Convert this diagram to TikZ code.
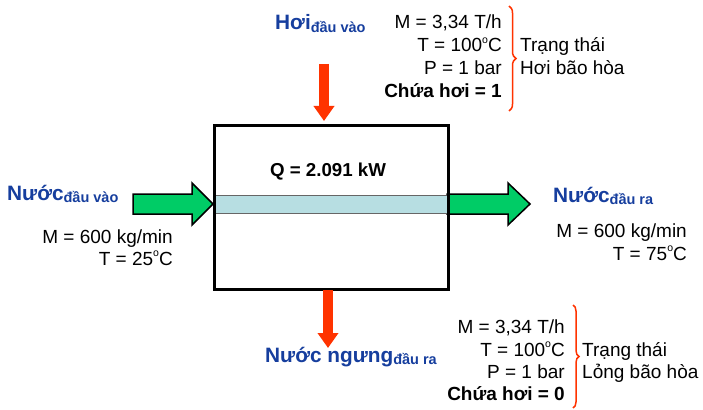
\documentclass[tikz,border=0pt]{standalone}
\usepackage{fontspec}
\setmainfont{Liberation Sans}
\usetikzlibrary{arrows.meta,decorations.pathreplacing}
\definecolor{lblblue}{RGB}{22,62,158}
\definecolor{flowgreen}{RGB}{0,204,102}
\definecolor{stripecol}{RGB}{183,222,226}
\definecolor{hotred}{RGB}{255,51,0}
\newcommand{\degO}{\raisebox{0.8ex}{\fontsize{10.5}{10.5}\selectfont o}}
\newcommand{\subl}[1]{\raisebox{-2.5pt}{\fontsize{14.5}{14.5}\selectfont\bfseries #1}}
\begin{document}
\begin{tikzpicture}[x=1pt,y=-1pt,
  txt/.style={inner sep=0pt, font=\fontsize{19}{23}\selectfont},
  boldtxt/.style={inner sep=0pt, font=\fontsize{19}{23}\selectfont\bfseries},
  lbl/.style={inner sep=0pt, text=lblblue, font=\fontsize{20.8}{22}\selectfont\bfseries},
  oarrow/.style={draw=hotred, line width=10pt, -{Triangle[width=20pt,length=15pt]}},
  garrow/.style={fill=flowgreen, draw=black, line width=1.5pt, line join=miter},
  curly/.style={draw=hotred, line width=1.5pt, decorate, decoration={brace, amplitude=7pt}},
]
\useasboundingbox (0,0) rectangle (703,409);
\fill[white] (0,0) rectangle (703,409);

% green flow arrows
\draw[garrow] (133,194) -- (192,194) -- (192,183) -- (213,204) -- (192,225) -- (192,214) -- (133,214) -- cycle;
\draw[garrow] (447,194) -- (508,194) -- (508,183) -- (530,204) -- (508,225) -- (508,214) -- (447,214) -- cycle;
% stripe
\draw[fill=stripecol, draw=black!60, line width=0.8pt] (215,195) rectangle (448,213);
% box
\node[draw, line width=3pt, minimum width=233.5pt, minimum height=163.5pt, inner sep=0pt] (box) at (331.25,207.25) {};
\node[boldtxt, anchor=base, font=\fontsize{18.7}{22}\selectfont\bfseries] (q) at (328,176) {Q = 2.091 kW};

% steam in
\node[lbl, anchor=base west] (hoiin) at (275,30) {Hơi\subl{đầu vào}};
\coordinate (hoitail) at (324,64);
\coordinate (hoitip) at (324,121);
\draw[oarrow] (hoitail) -- (hoitip);
\node[txt, anchor=base east] (t1) at (502,29) {M = 3,34 T/h};
\node[txt, anchor=base east] (t2) at (502,52) {T = 100\degO C};
\node[txt, anchor=base east] (t3) at (502,75) {P = 1 bar};
\node[boldtxt, anchor=base east] (t4) at (502,98) {Chứa hơi = 1};
\coordinate (b1top) at (509,6);
\coordinate (b1bot) at (509,111);
\draw[curly] (b1top) -- (b1bot);
\node[txt, anchor=base west] (t5) at (520,52) {Trạng thái};
\node[txt, anchor=base west] (t6) at (520,75) {Hơi bão hòa};

% water in
\node[lbl, anchor=base west] (nin) at (7,200) {Nước\subl{đầu vào}};
\node[txt, anchor=base east] (m1) at (173,243) {M = 600 kg/min};
\node[txt, anchor=base east] (m2) at (173,265) {T = 25\degO C};

% water out
\node[lbl, anchor=base west] (nout) at (553,202) {Nước\subl{đầu ra}};
\node[txt, anchor=base east] (m3) at (687,237) {M = 600 kg/min};
\node[txt, anchor=base east] (m4) at (687,260) {T = 75\degO C};

% condensate out
\coordinate (ngtail) at (328,290);
\coordinate (ngtip) at (328,348);
\draw[oarrow] (ngtail) -- (ngtip);
\node[lbl, anchor=base west] (ng) at (265,362) {Nước ngưng\subl{đầu ra}};
\node[txt, anchor=base east] (c1) at (565,333) {M = 3,34 T/h};
\node[txt, anchor=base east] (c2) at (565,356) {T = 100\degO C};
\node[txt, anchor=base east] (c3) at (565,378) {P = 1 bar};
\node[boldtxt, anchor=base east] (c4) at (565,400) {Chứa hơi = 0};
\coordinate (b2top) at (573,305);
\coordinate (b2bot) at (573,408);
\draw[curly, decoration={brace, amplitude=6pt}] (b2top) -- (b2bot);
\node[txt, anchor=base west] (c5) at (582,356) {Trạng thái};
\node[txt, anchor=base west] (c6) at (582,378) {Lỏng bão hòa};
\end{tikzpicture}
\end{document}
